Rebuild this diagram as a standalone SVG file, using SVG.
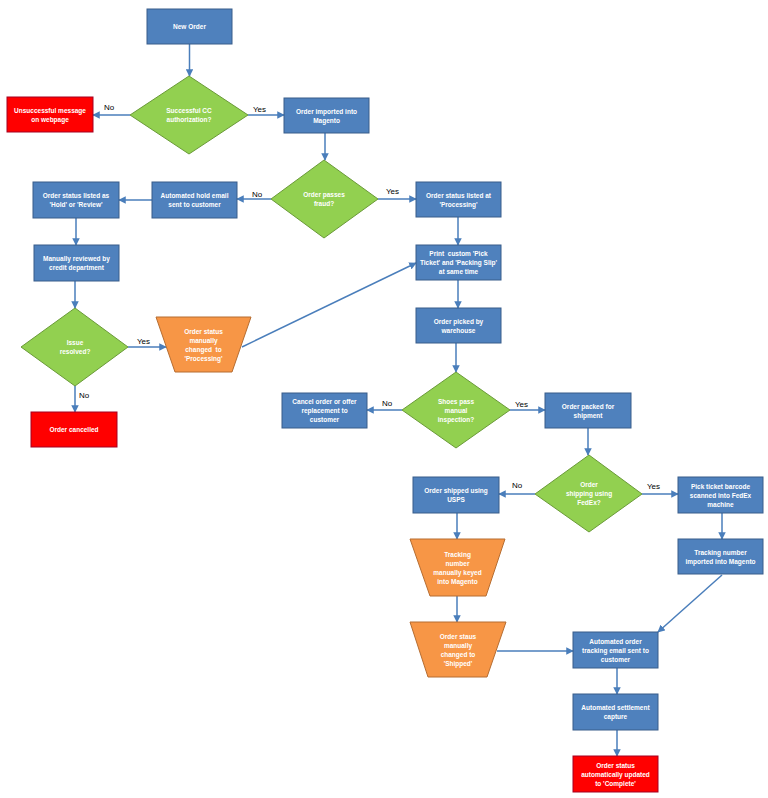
<svg xmlns="http://www.w3.org/2000/svg" width="768" height="798" viewBox="0 0 768 798">
<defs>
<style>
.b{fill:#4F81BD;stroke:#385D8A;stroke-width:1}
.g{fill:#92D050;stroke:#6A9A38;stroke-width:1}
.o{fill:#F79646;stroke:#B66D31;stroke-width:1}
.r{fill:#FF0000;stroke:#A50021;stroke-width:1}
.t{font-family:"Liberation Sans",Arial,sans-serif;font-size:6.5px;font-weight:bold;fill:#FFFFFF;text-anchor:middle;white-space:pre}
.l{font-family:"Liberation Sans",Arial,sans-serif;font-size:8px;fill:#000000}
.c{fill:none;stroke:#4A7EBB;stroke-width:1.5;marker-end:url(#ah)}
</style>
<marker id="ah" viewBox="0 0 10 10" refX="9" refY="5" markerWidth="5" markerHeight="5" orient="auto">
<path d="M0,0 L10,5 L0,10 z" fill="#4A7EBB"/>
</marker>
</defs>
<rect width="768" height="798" fill="#FFFFFF"/>

<g id="connectors">
<path class="c" d="M189.5,44 L189.5,76"/>
<path class="c" d="M130,115 L93,115"/>
<path class="c" d="M248,115 L284,115"/>
<path class="c" d="M325,133 L325,160"/>
<path class="c" d="M271,199 L237,199"/>
<path class="c" d="M378,199 L416,199"/>
<path class="c" d="M152,200 L119,200"/>
<path class="c" d="M76,218 L76,245"/>
<path class="c" d="M75,281 L75,308"/>
<path class="c" d="M128,347 L166,347"/>
<path class="c" d="M75,386 L75,412"/>
<path class="c" d="M242,347 L416,263"/>
<path class="c" d="M458,217 L458,245"/>
<path class="c" d="M458,280 L458,308"/>
<path class="c" d="M456,343 L456,372"/>
<path class="c" d="M402,410 L367,410"/>
<path class="c" d="M510,410 L545,410"/>
<path class="c" d="M588,428 L588,455"/>
<path class="c" d="M535,494 L499,494"/>
<path class="c" d="M642,494 L678,494"/>
<path class="c" d="M457,513 L457,539"/>
<path class="c" d="M457,596 L457,622"/>
<path class="c" d="M497,651 L573,651"/>
<path class="c" d="M722,513 L722,539"/>
<path class="c" d="M722,575 L658,632"/>
<path class="c" d="M617,668 L617,694"/>
<path class="c" d="M617,730 L617,756"/>
<text class="l" x="104" y="110">No</text>
<text class="l" x="253" y="112">Yes</text>
<text class="l" x="252" y="197">No</text>
<text class="l" x="386" y="194">Yes</text>
<text class="l" x="137" y="344">Yes</text>
<text class="l" x="79" y="398">No</text>
<text class="l" x="382" y="406">No</text>
<text class="l" x="515" y="407">Yes</text>
<text class="l" x="512" y="488">No</text>
<text class="l" x="647" y="489">Yes</text>
</g>

<g id="new-order">
<rect class="b" x="147" y="9" width="85" height="35"/>
<text class="t" x="189.5" y="29">New Order</text>
</g>
<g id="cc-decision">
<polygon class="g" points="189,76 248,115 189,154 130,115"/>
<text class="t" x="189" y="113">Successful CC</text>
<text class="t" x="189" y="122">authorization?</text>
</g>
<g id="unsuccessful">
<rect class="r" x="7" y="97" width="86" height="35"/>
<text class="t" x="50" y="112.5">Unsuccessful message</text>
<text class="t" x="50" y="121.5">on webpage</text>
</g>
<g id="imported">
<rect class="b" x="284" y="98" width="85" height="35"/>
<text class="t" x="326.5" y="113.5">Order imported into</text>
<text class="t" x="326.5" y="122.5">Magento</text>
</g>
<g id="fraud-decision">
<polygon class="g" points="324,160 378,199 324,238 271,199"/>
<text class="t" x="324" y="197">Order passes</text>
<text class="t" x="324" y="206">fraud?</text>
</g>
<g id="hold-email">
<rect class="b" x="152" y="182" width="85" height="36"/>
<text class="t" x="194.5" y="198">Automated hold email</text>
<text class="t" x="194.5" y="207">sent to customer</text>
</g>
<g id="hold-status">
<rect class="b" x="33" y="182" width="86" height="36"/>
<text class="t" x="76" y="198">Order status listed as</text>
<text class="t" x="76" y="207">'Hold' or 'Review'</text>
</g>
<g id="reviewed">
<rect class="b" x="34" y="245" width="85" height="36"/>
<text class="t" x="76.5" y="261">Manually reviewed by</text>
<text class="t" x="76.5" y="270">credit department</text>
</g>
<g id="issue-decision">
<polygon class="g" points="75,308 128,347 75,386 21,347"/>
<text class="t" x="75" y="345">Issue</text>
<text class="t" x="75" y="354">resolved?</text>
</g>
<g id="cancelled">
<rect class="r" x="31" y="412" width="86" height="35"/>
<text class="t" x="74" y="432">Order cancelled</text>
</g>
<g id="manual-processing">
<polygon class="o" points="156,317 251,317 232,372 175,372"/>
<text class="t" x="203.5" y="334">Order status</text>
<text class="t" x="203.5" y="343">manually</text>
<text class="t" x="203.5" y="352" xml:space="preserve">changed  to</text>
<text class="t" x="203.5" y="361">'Processing'</text>
</g>
<g id="processing">
<rect class="b" x="416" y="182" width="85" height="35"/>
<text class="t" x="458.5" y="197.5">Order status listed at</text>
<text class="t" x="458.5" y="206.5">'Processing'</text>
</g>
<g id="print">
<rect class="b" x="416" y="245" width="85" height="35"/>
<text class="t" x="458.5" y="256" xml:space="preserve">Print  custom 'Pick</text>
<text class="t" x="458.5" y="265">Ticket' and 'Packing Slip'</text>
<text class="t" x="458.5" y="274">at same time</text>
</g>
<g id="picked">
<rect class="b" x="416" y="308" width="85" height="35"/>
<text class="t" x="458.5" y="323.5">Order picked by</text>
<text class="t" x="458.5" y="332.5">warehouse</text>
</g>
<g id="shoes-decision">
<polygon class="g" points="456,372 510,410 456,448 402,410"/>
<text class="t" x="456" y="403.5">Shoes pass</text>
<text class="t" x="456" y="412.5">manual</text>
<text class="t" x="456" y="421.5">inspection?</text>
</g>
<g id="cancel-offer">
<rect class="b" x="282" y="393" width="85" height="35"/>
<text class="t" x="324.5" y="404">Cancel order or offer</text>
<text class="t" x="324.5" y="413">replacement to</text>
<text class="t" x="324.5" y="422">customer</text>
</g>
<g id="packed">
<rect class="b" x="545" y="393" width="86" height="35"/>
<text class="t" x="588" y="408.5">Order packed for</text>
<text class="t" x="588" y="417.5">shipment</text>
</g>
<g id="fedex-decision">
<polygon class="g" points="589,455 642,494 589,532 535,494"/>
<text class="t" x="589" y="487">Order</text>
<text class="t" x="589" y="496">shipping using</text>
<text class="t" x="589" y="505">FedEx?</text>
</g>
<g id="usps">
<rect class="b" x="413" y="477" width="86" height="36"/>
<text class="t" x="456" y="493">Order shipped using</text>
<text class="t" x="456" y="502">USPS</text>
</g>
<g id="tracking-keyed">
<polygon class="o" points="410,539 505,539 486,596 430,596"/>
<text class="t" x="457.5" y="557">Tracking</text>
<text class="t" x="457.5" y="566">number</text>
<text class="t" x="457.5" y="575">manually keyed</text>
<text class="t" x="457.5" y="584">into Magento</text>
</g>
<g id="manual-shipped">
<polygon class="o" points="410,622 506,622 487,677 428,677"/>
<text class="t" x="458" y="639">Order staus</text>
<text class="t" x="458" y="648">manually</text>
<text class="t" x="458" y="657">changed to</text>
<text class="t" x="458" y="666">'Shipped'</text>
</g>
<g id="pick-ticket">
<rect class="b" x="678" y="477" width="85" height="36"/>
<text class="t" x="720.5" y="488.5">Pick ticket barcode</text>
<text class="t" x="720.5" y="497.5">scanned into FedEx</text>
<text class="t" x="720.5" y="506.5">machine</text>
</g>
<g id="tracking-imported">
<rect class="b" x="678" y="539" width="85" height="35"/>
<text class="t" x="720.5" y="554.5">Tracking number</text>
<text class="t" x="720.5" y="563.5">imported into Magento</text>
</g>
<g id="tracking-email">
<rect class="b" x="573" y="632" width="85" height="36"/>
<text class="t" x="615.5" y="643.5">Automated order</text>
<text class="t" x="615.5" y="652.5">tracking email sent to</text>
<text class="t" x="615.5" y="661.5">customer</text>
</g>
<g id="settlement">
<rect class="b" x="573" y="694" width="85" height="36"/>
<text class="t" x="615.5" y="710">Automated settlement</text>
<text class="t" x="615.5" y="719">capture</text>
</g>
<g id="complete">
<rect class="r" x="573" y="756" width="85" height="36"/>
<text class="t" x="615.5" y="767.5">Order status</text>
<text class="t" x="615.5" y="776.5">automatically updated</text>
<text class="t" x="615.5" y="785.5">to 'Complete'</text>
</g>
</svg>
